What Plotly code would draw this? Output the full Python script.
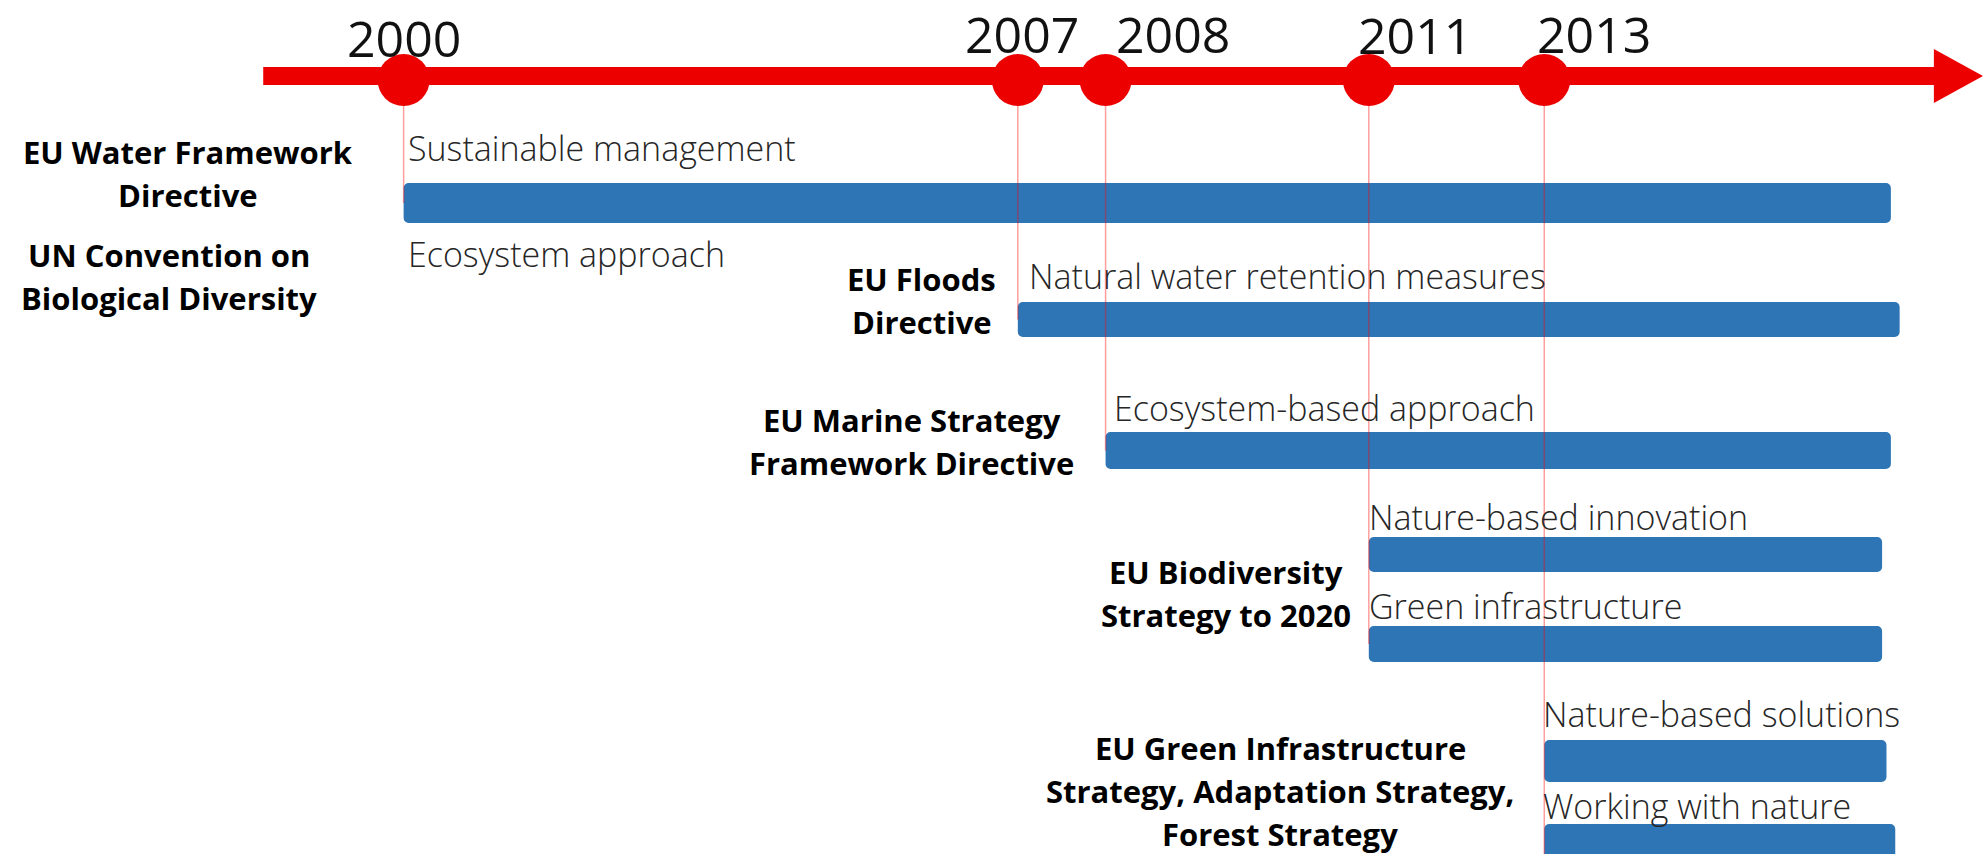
import plotly.graph_objects as go

# ---------------- data ----------------
years = [2000, 2007, 2008, 2011, 2013]

policies = [
    "EU Water Framework<br>Directive",
    "UN Convention on<br>Biological Diversity",
    "EU Floods<br>Directive",
    "EU Marine Strategy<br>Framework Directive",
    "EU Biodiversity<br>Strategy to 2020",
    "EU Green Infrastructure<br>Strategy, Adaptation Strategy,<br>Forest Strategy",
]
policy_year = [2000, 2000, 2007, 2008, 2011, 2013]

concepts = [
    "Sustainable management",
    "Ecosystem approach",
    "Natural water retention measures",
    "Ecosystem-based approach",
    "Nature-based innovation",
    "Green infrastructure",
    "Nature-based solutions",
    "Working with nature",
]
concept_year = [2000, 2000, 2007, 2008, 2011, 2011, 2013, 2013]

bar_start = [2000, 2007, 2008, 2011, 2011, 2013, 2013]
bar_end = [2016.95, 2017.05, 2016.95, 2016.85, 2016.85, 2016.9, 2017.0]

timeline_start = 1998.4
timeline_end = 2018.0

# ---------------- layout / style ----------------
W, H = 1983, 854
X_RANGE = [1995.4, 2018.0]
RED = "rgb(236,0,0)"
BLUE = "#2E75B6"
GUIDE = "rgba(255,0,0,0.38)"
TIMELINE_Y = 76
CIRCLE_Y = 80
HEAD_LEN = 0.56      # years
HEAD_HALF = 27       # px
bar_row_y = [203, 319.5, 450.5, 554.5, 644, 761, 842]
bar_thick = [40, 35, 37, 35, 36, 42, 36]
concept_y = [148, 254, 276, 408, 517, 606, 714, 806]
concept_dx = [2, 2, 9, 6, -2, -2, -3, -3]
policy_y = [173, 276, 300, 441, 593, 791]
policy_dx = [-216, -235, -96, -194, -143, -264]
LINE_GAP = 43
year_label_dx = [0, 4, 67, 46, 50]
year_label_y = [38, 34, 34, 35, 34]
guide_end_y = [203, 319.5, 450.5, 644, 854]

fig = go.Figure()

# bars
fig.add_trace(go.Bar(
    y=bar_row_y,
    x=[e - s for s, e in zip(bar_start, bar_end)],
    base=bar_start,
    orientation="h",
    width=bar_thick,
    marker=dict(color=BLUE, line=dict(width=0)),
    hoverinfo="skip",
    showlegend=False,
))

# guide lines from the timeline down to the bars
for yr, ye in zip(years, guide_end_y):
    fig.add_trace(go.Scatter(
        x=[yr, yr], y=[TIMELINE_Y, ye], mode="lines",
        line=dict(color=GUIDE, width=1.5),
        hoverinfo="skip", showlegend=False,
    ))

# timeline arrow shaft
head_base = timeline_end - HEAD_LEN
fig.add_trace(go.Scatter(
    x=[timeline_start, head_base + 0.02], y=[TIMELINE_Y, TIMELINE_Y], mode="lines",
    line=dict(color=RED, width=18),
    hoverinfo="skip", showlegend=False,
))
# arrow head
fig.add_trace(go.Scatter(
    x=[head_base, timeline_end, head_base, head_base],
    y=[TIMELINE_Y - HEAD_HALF, TIMELINE_Y, TIMELINE_Y + HEAD_HALF, TIMELINE_Y - HEAD_HALF],
    mode="lines", fill="toself", fillcolor=RED,
    line=dict(color=RED, width=0),
    hoverinfo="skip", showlegend=False,
))

# year circles
fig.add_trace(go.Scatter(
    x=years, y=[CIRCLE_Y] * len(years), mode="markers",
    marker=dict(size=52, color=RED, line=dict(width=0)),
    hoverinfo="skip", showlegend=False,
))

annotations = []
# year labels
for yr, dx, yy in zip(years, year_label_dx, year_label_y):
    annotations.append(dict(
        x=yr, y=yy, xref="x", yref="y", text=str(yr), showarrow=False,
        xanchor="center", yanchor="middle", xshift=dx,
        font=dict(family="Open Sans", size=50, color="#111111"),
    ))

# concept labels
for txt, yr, yy, dx in zip(concepts, concept_year, concept_y, concept_dx):
    annotations.append(dict(
        x=yr, y=yy, xref="x", yref="y", text=txt, showarrow=False,
        xanchor="left", yanchor="middle", xshift=dx,
        font=dict(family="Open Sans", size=34, color="#262626", weight=300),
    ))

# policy labels (bold, centred lines)
for txt, yr, yc, dx in zip(policies, policy_year, policy_y, policy_dx):
    lines = txt.split("<br>")
    n = len(lines)
    for i, ln in enumerate(lines):
        annotations.append(dict(
            x=yr, y=yc + (i - (n - 1) / 2) * LINE_GAP, xref="x", yref="y",
            text=ln, showarrow=False, xanchor="center", yanchor="middle", xshift=dx,
            font=dict(family="Open Sans", size=31, color="#000000", weight="bold"),
        ))

fig.update_layout(
    width=W, height=H,
    margin=dict(l=0, r=0, t=0, b=0, pad=0),
    paper_bgcolor="white", plot_bgcolor="white",
    barcornerradius=5,
    xaxis=dict(range=X_RANGE, visible=False, fixedrange=True),
    yaxis=dict(range=[H, 0], visible=False, fixedrange=True),
    annotations=annotations,
    showlegend=False,
)

fig.write_html("out.html", config={"displayModeBar": False, "staticPlot": True},
               post_script="document.body.style.margin='0';")
